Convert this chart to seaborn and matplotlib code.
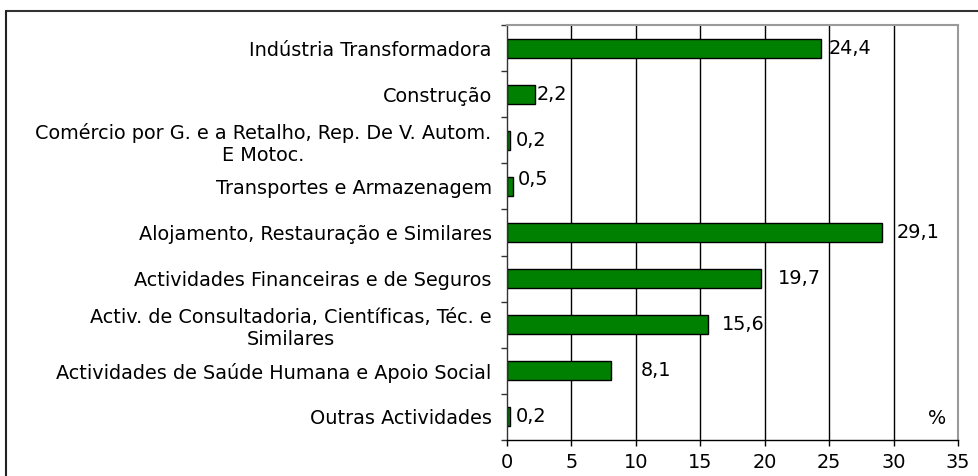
import numpy as np
import pandas as pd
import matplotlib.pyplot as plt
import seaborn as sns
from matplotlib.lines import Line2D

categories = [
    "Indústria Transformadora",
    "Construção",
    "Comércio por G. e a Retalho, Rep. De V. Autom.\nE Motoc.",
    "Transportes e Armazenagem",
    "Alojamento, Restauração e Similares",
    "Actividades Financeiras e de Seguros",
    "Activ. de Consultadoria, Científicas, Téc. e\nSimilares",
    "Actividades de Saúde Humana e Apoio Social",
    "Outras Actividades",
]
values = [24.4, 2.2, 0.2, 0.5, 29.1, 19.7, 15.6, 8.1, 0.2]
x_ticks = [0, 5, 10, 15, 20, 25, 30, 35]

# pixel nudges for the value labels (dx, dy), as placed in the original
label_nudge = [(7, 0), (1, 0), (6, 0), (4, 7), (15, 0), (17, 0), (14, 0), (29, 0), (6, 0)]

df = pd.DataFrame({"categoria": categories, "valor": values})

sns.set_style("white")
fs = 13.9
plt.rcParams["font.family"] = ["DejaVu Sans"]
plt.rcParams["font.size"] = fs
plt.rcParams["text.color"] = "black"
plt.rcParams["xtick.color"] = "black"
plt.rcParams["ytick.color"] = "black"

W, H = 979, 476
fig = plt.figure(figsize=(W / 100, H / 100), dpi=100)
ax = fig.add_axes([507 / W, 1 - 440 / H, (958 - 507) / W, (440 - 25) / H])

sns.barplot(data=df, x="valor", y="categoria", color="#008000", saturation=1,
            width=0.41, edgecolor="black", linewidth=1, ax=ax, zorder=2)

ax.set_xlim(0, 35)
ax.set_xticks(x_ticks)
ax.set_xlabel("")
ax.set_ylabel("")
for xv in x_ticks[1:-1]:
    ax.axvline(xv, color="black", lw=1, zorder=1)

# category boundaries as outward minor ticks on the left
ax.set_yticks(np.arange(-0.5, len(categories), 1), minor=True)
ax.tick_params(axis="y", which="major", length=0, pad=11, labelsize=fs)
ax.tick_params(axis="y", which="minor", length=4, width=1, color="#333333", left=True)
ax.tick_params(axis="x", length=4, width=1, color="black", bottom=True, pad=5, labelsize=fs)
for lab in ax.get_yticklabels():
    lab.set_multialignment("center")

for side in ["top", "right"]:
    ax.spines[side].set_color("#9a9a9a")
    ax.spines[side].set_linewidth(1.5)
ax.spines["left"].set_color("#333333")
ax.spines["bottom"].set_color("black")
for side in ["left", "bottom"]:
    ax.spines[side].set_linewidth(1)

for i, v in enumerate(values):
    dx, dy = label_nudge[i]
    ax.annotate(f"{v:.1f}".replace(".", ","), xy=(v, i),
                xytext=(dx * 0.72, dy * 0.72), textcoords="offset points",
                ha="left", va="center", fontsize=fs, zorder=4)

ax.text(33.4, 0.03, "%", transform=ax.get_xaxis_transform(),
        ha="center", va="bottom", fontsize=fs)

# outer frame (top and left edges only, as in the original)
fig.add_artist(Line2D([6 / W, 1], [1 - 11 / H, 1 - 11 / H], color="#333333", lw=1.5,
                      transform=fig.transFigure))
fig.add_artist(Line2D([6 / W, 6 / W], [0, 1 - 11 / H], color="#222222", lw=1.5,
                      transform=fig.transFigure))

fig.savefig("out.png", dpi=100)
